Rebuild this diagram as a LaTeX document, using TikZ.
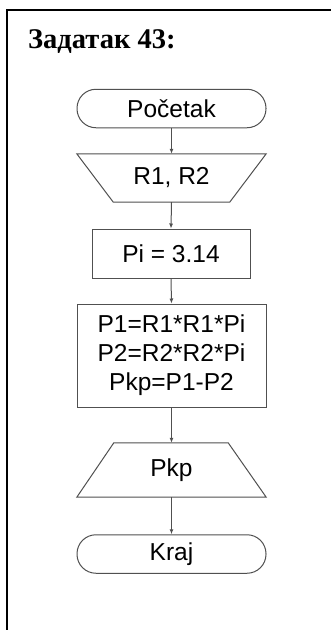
\documentclass[tikz,border=0pt]{standalone}
\usepackage{fontspec}
\setmainfont{Liberation Sans}
\newfontfamily\titlefont{Liberation Serif}
\usetikzlibrary{arrows.meta}
\definecolor{linegray}{HTML}{505050}
\begin{document}
\begin{tikzpicture}[x=1pt,y=-1pt,
  lbl/.style={inner sep=0pt, font=\fontsize{24.5}{29}\selectfont, align=center},
  shapeline/.style={draw=linegray, line width=1pt},
  terminal/.style={lbl, shapeline, rounded corners=19pt, minimum width=189pt, minimum height=38.5pt},
  procbox/.style={lbl, shapeline, minimum width=#1, minimum height=49pt},
  ghost/.style={lbl, minimum width=189pt},
  conn/.style={draw=linegray, line width=1pt, -{Latex[length=5pt,width=4pt]}},
]
\useasboundingbox (0,0) rectangle (331,630);
\fill[white] (0,0) rectangle (331,630);
\draw[line width=2pt] (7,631) -- (7,10) -- (332,10);
\node[anchor=base west, inner sep=0pt, font=\titlefont\bfseries\fontsize{28.5}{32}\selectfont] (title) at (28,48) {Задатак 43:};

\node[terminal] (start) at (171.5,108.5) {Početak};
\node[ghost, minimum height=48pt] (in) at (171.5,178) {R1, R2};
\draw[shapeline] (in.north west) -- (in.north east) -- ([xshift=-36.5pt]in.south east) -- ([xshift=36.5pt]in.south west) -- cycle;
\node[procbox=158pt] (pi) at (171,253.5) {Pi = 3.14};
\node[procbox=189pt, minimum height=103pt] (proc) at (171.5,355.5) {P1=R1*R1*Pi\\P2=R2*R2*Pi\\Pkp=P1-P2};
\node[ghost, minimum height=54pt] (out) at (171.5,470) {Pkp};
\draw[shapeline] ([xshift=37pt]out.north west) -- ([xshift=-38pt]out.north east) -- (out.south east) -- (out.south west) -- cycle;
\node[terminal] (end) at (171.5,554) {Kraj};

\draw[conn] (start.south) -- (in.north);
\draw[conn] (in.south) -- (pi.north);
\draw[conn] (pi.south) -- (proc.north);
\draw[conn] (proc.south) -- (out.north);
\draw[conn] (out.south) -- (end.north);
\end{tikzpicture}
\end{document}
